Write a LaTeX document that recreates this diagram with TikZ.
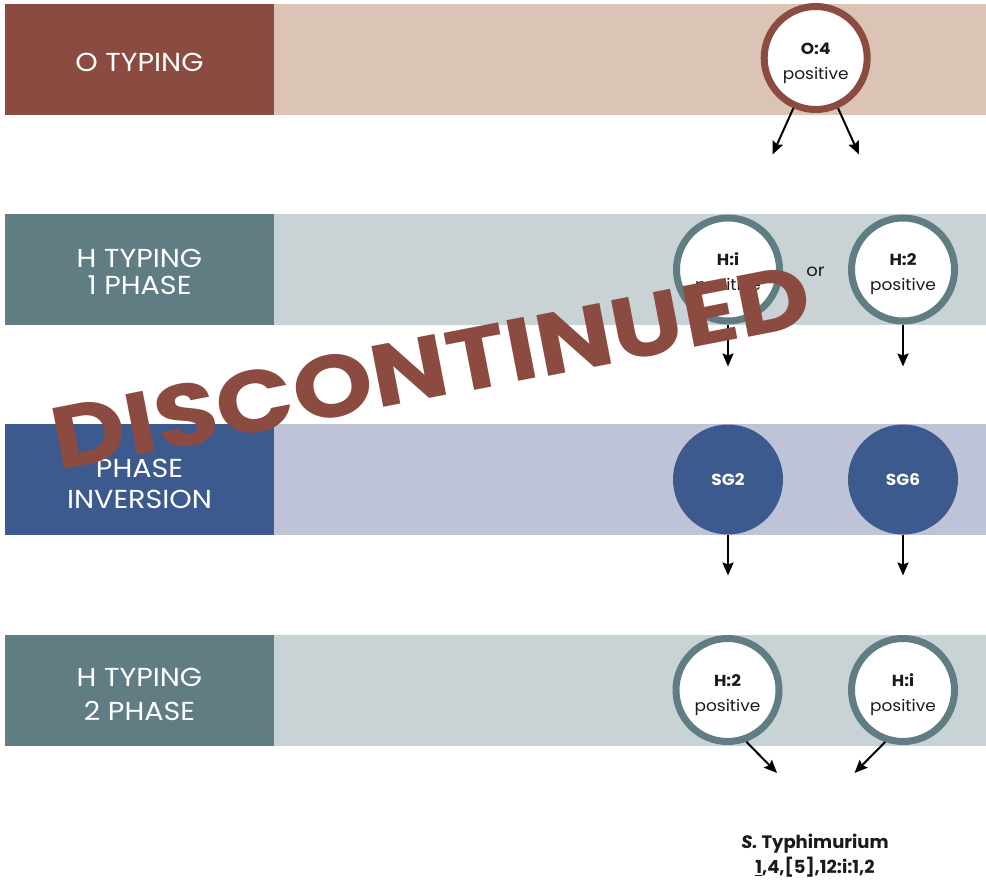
\documentclass[tikz,border=0pt]{standalone}
\usepackage{fontspec}
\setmainfont{Poppins}
\newfontfamily\tagfont{Poppins}[FakeStretch=1.1]
\newfontfamily\ringfont{Poppins}[FakeStretch=1.06]
\newfontfamily\stampfont{Poppins}[FakeStretch=1.16]
\usetikzlibrary{arrows.meta,positioning}

\definecolor{oDark}{HTML}{8B4B41}
\definecolor{oLight}{HTML}{DBC3B5}
\definecolor{hDark}{HTML}{5F7D82}
\definecolor{hLight}{HTML}{C9D2D4}
\definecolor{pDark}{HTML}{3D5A8E}
\definecolor{pLight}{HTML}{BEC3D7}
\definecolor{ink}{HTML}{1A1A1A}

% two-line circle text, pushed a little below the middle
\newcommand{\pos}[1]{\rule{0pt}{22pt}\textbf{#1}\\positive}

\tikzset{
  tag/.style={text=white,align=center,font=\tagfont\fontsize{26}{27}\selectfont},
  ring/.style={circle,draw=#1,line width=7pt,fill=white,minimum size=103pt,inner sep=0pt,align=center,text=ink,font=\ringfont\fontsize{16}{25}\selectfont},
  disc/.style={circle,fill=pDark,minimum size=110pt,inner sep=0pt,text=white,font=\ringfont\fontsize{16}{18}\selectfont\bfseries},
  flow/.style={-{Stealth[length=13pt,width=11pt,inset=2pt]},line width=2pt,black},
}

\begin{document}
\begin{tikzpicture}[x=1pt,y=-1pt]
\useasboundingbox (0,0) rectangle (986,881);

% bands
\foreach \y/\d/\l in {4/oDark/oLight,214/hDark/hLight,424/pDark/pLight,635/hDark/hLight} {
\fill[\l] (274,\y) rectangle (986,\y+111);
\fill[\d] (5,\y) rectangle (274,\y+111);
}

\node (t0) at (139.5,62.5) [tag] {O TYPING};
\node (t1) at (139.5,272) [tag] {H TYPING\\1 PHASE};
\node (t2) at (139.5,483.8) [tag,font=\tagfont\fontsize{26}{31.4}\selectfont] {PHASE\\INVERSION};
\node (t3) at (139.5,694.3) [tag,font=\tagfont\fontsize{26}{33.4}\selectfont] {H TYPING\\2 PHASE};

% circles
\node (o4) at (815.7,58) [ring=oDark] {\pos{O:4}};
\node (hi1) at (728,269.5) [ring=hDark] {\pos{H:i}};
\node (or1) at (815.5,272) [text=ink,font=\ringfont\fontsize{17}{17}\selectfont] {or};
\node (h21) at (903,269.5) [ring=hDark] {\pos{H:2}};
\node (sg2) at (728,479.5) [disc] {SG2};
\node (sg6) at (903,479.5) [disc] {SG6};
\node (h22) at (727.5,690) [ring=hDark] {\pos{H:2}};
\node (hi2) at (903,690) [ring=hDark] {\pos{H:i}};

\node (sty) at (815,856) [text=ink,align=center,font=\fontsize{18}{25}\selectfont\bfseries] {\textit{S.} Typhimurium\\\underline{1},4,[5],12:i:1,2};

% arrow ends
\coordinate (o4l) at (772.5,154.5);
\coordinate (o4r) at (859,154.5);
\coordinate (hi1e) at (728,366.5);
\coordinate (h21e) at (903,366.5);
\coordinate (sg2e) at (728,575.5);
\coordinate (sg6e) at (903,575.5);
\coordinate (h22e) at (777,773);
\coordinate (hi2e) at (854.5,773);

\draw[flow] (o4.-114) -- (o4l);
\draw[flow] (o4.-66) -- (o4r);
\foreach \n in {hi1,h21,sg2,sg6} {
\draw[flow] (\n) -- (\n e);};
\draw[flow] (h22.-70) -- (h22e);
\draw[flow] (hi2.-109) -- (hi2e);

\node (stamp) at (431,367) [rotate=11,text=oDark,font=\stampfont\fontsize{88}{88}\selectfont\bfseries] {DISCONTINUED};
\end{tikzpicture}
\end{document}
